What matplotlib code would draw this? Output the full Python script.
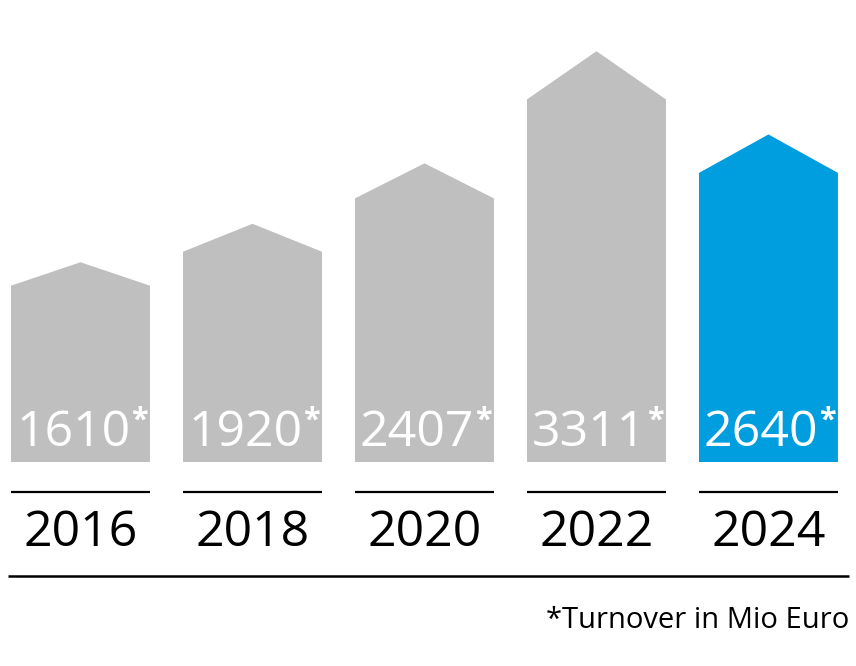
import matplotlib.pyplot as plt

years = ["2016", "2018", "2020", "2022", "2024"]
turnover = [1610, 1920, 2407, 3311, 2640]
colors = ["#bfbfbf", "#bfbfbf", "#bfbfbf", "#bfbfbf", "#009ddf"]

plt.rcParams['font.family'] = ['Open Sans', 'DejaVu Sans']

fig = plt.figure(figsize=(8.56, 6.66), dpi=100)
ax = fig.add_axes([0, 0, 1, 1])
ax.set_xlim(-0.468, 4.509)
ax.set_ylim(-1863, 4219)
ax.axis("off")

w = 0.808 / 2
roof = 0.133

for i, (yr, v, c) in enumerate(zip(years, turnover, colors)):
    # house shaped bar: body up to the value, small roof on top
    xs = [i - w, i - w, i, i + w, i + w]
    ys = [0, v, v * (1 + roof), v, 0]
    ax.fill(xs, ys, color=c, lw=0)

    t = ax.text(i + 0.29, 146, str(v), ha="right", va="baseline",
                fontsize=36, color="white")
    ax.annotate("*", xy=(1, 1), xycoords=t, xytext=(0.5, 2),
                textcoords="offset points", ha="left", va="top",
                fontsize=22, fontweight="bold", color="white")

    ax.plot([i - w, i + w], [-274, -274], color="black", lw=1.6,
            solid_capstyle="butt")
    ax.text(i, -648, yr, ha="center", va="center", fontsize=36, color="black")

ax.plot([-0.423, 4.47], [-1041, -1041], color="black", lw=1.8,
        solid_capstyle="butt")
ax.text(4.47, -1516, "*Turnover in Mio Euro", ha="right", va="baseline",
        fontsize=21, color="black")

fig.savefig("out.png", dpi=100)
